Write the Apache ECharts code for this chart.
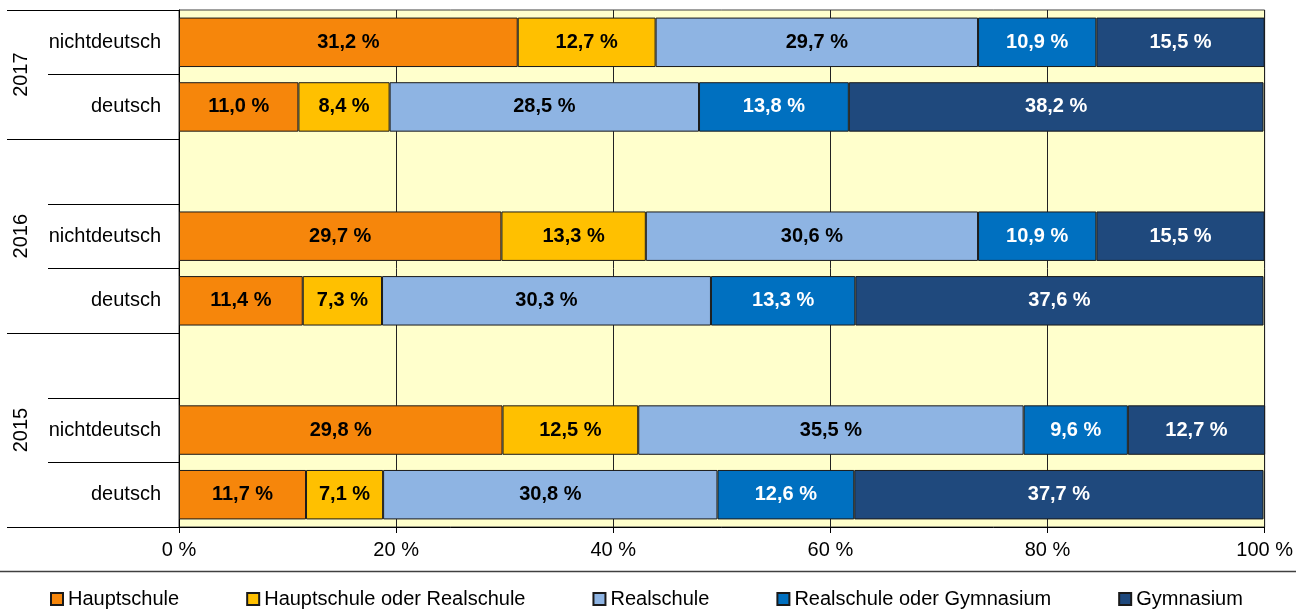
<!DOCTYPE html>
<html>
<head>
<meta charset="utf-8">
<script src="https://cdn.jsdelivr.net/npm/echarts@6/dist/echarts.min.js"></script>
<style>
html,body{margin:0;padding:0;background:#fff;}
#chart{width:1296px;height:615px;}
</style>
</head>
<body>
<div id="chart"></div>
<script>
// Rows from bottom to top; '' rows are the empty separator rows
var categories = ['deutsch', 'nichtdeutsch', '', 'deutsch', 'nichtdeutsch', '', 'deutsch', 'nichtdeutsch'];
var years = ['2015', '2016', '2017'];
var yearCenters = [1.5, 4.5, 7];
var groupBounds = [0, 3, 6, 8];
var xTicks = [0, 20, 40, 60, 80, 100];

var seriesNames = ['Hauptschule', 'Hauptschule oder Realschule', 'Realschule', 'Realschule oder Gymnasium', 'Gymnasium'];
var hauptschule   = [11.7, 29.8, null, 11.4, 29.7, null, 11.0, 31.2];
var hauptOderReal = [7.1, 12.5, null, 7.3, 13.3, null, 8.4, 12.7];
var realschule    = [30.8, 35.5, null, 30.3, 30.6, null, 28.5, 29.7];
var realOderGym   = [12.6, 9.6, null, 13.3, 10.9, null, 13.8, 10.9];
var gymnasium     = [37.7, 12.7, null, 37.6, 15.5, null, 38.2, 15.5];

var colors = ['#F6860B', '#FFC000', '#8EB4E3', '#0070C0', '#1F497D'];
var labelColors = ['#000', '#000', '#000', '#fff', '#fff'];
var FONT = "'Liberation Sans', Arial, sans-serif";

var seriesData = [hauptschule, hauptOderReal, realschule, realOderGym, gymnasium];

var chart = echarts.init(document.getElementById('chart'), null, {renderer: 'canvas'});
var series = seriesData.map(function (d, i) {
  return {
    name: seriesNames[i],
    type: 'bar',
    stack: 'total',
    barCategoryGap: '23.5%',
    data: d,
    itemStyle: {color: colors[i], borderColor: '#1a1a1a', borderWidth: 1},
    label: {
      show: true,
      position: 'inside',
      color: labelColors[i],
      fontWeight: 'bold',
      fontSize: 20,
      fontFamily: FONT,
      formatter: function (p) {
        return p.value == null ? '' : p.value.toFixed(1).replace('.', ',') + ' %';
      }
    },
    emphasis: {disabled: true},
    animation: false
  };
});

chart.setOption({
  animation: false,
  textStyle: {fontFamily: FONT},
  grid: {
    left: 179, right: 29, top: 10, bottom: 88,
    show: true, backgroundColor: '#FFFFCC', borderColor: '#404040', borderWidth: 1
  },
  xAxis: {
    type: 'value', min: 0, max: 100, interval: 20,
    axisLine: {show: true, lineStyle: {color: '#000', width: 1}},
    axisTick: {show: true, length: 6, lineStyle: {color: '#000'}},
    splitLine: {show: true, lineStyle: {color: '#222', width: 1}},
    axisLabel: {formatter: '{value} %', fontSize: 20, color: '#000', fontFamily: FONT, margin: 13}
  },
  yAxis: [{
    type: 'category',
    data: categories,
    position: 'left',
    axisLine: {show: true, lineStyle: {color: '#000', width: 1}},
    axisTick: {show: true, interval: 0, length: 131, lineStyle: {color: '#000', width: 1}},
    axisLabel: {interval: 0, fontSize: 20, color: '#000', fontFamily: FONT, margin: 18},
    splitLine: {show: false}
  }, {
    type: 'value',
    min: 0, max: 8,
    position: 'left',
    axisLine: {show: false},
    axisTick: {show: true, customValues: groupBounds, length: 172, lineStyle: {color: '#000', width: 1}},
    axisLabel: {
      show: true,
      customValues: yearCenters,
      rotate: 90,
      margin: 148,
      fontSize: 20,
      color: '#000',
      fontFamily: FONT,
      formatter: function (v) {
        var idx = yearCenters.indexOf(v);
        return idx >= 0 ? years[idx] : '';
      }
    },
    splitLine: {show: false}
  }],
  legend: {
    data: seriesNames,
    left: 45,
    top: 584,
    icon: 'rect',
    itemWidth: 12,
    itemHeight: 12,
    itemGap: 67,
    textStyle: {fontSize: 20, color: '#000', fontFamily: FONT}
  },
  graphic: [{
    type: 'line',
    shape: {x1: 0, y1: 571.5, x2: 1296, y2: 571.5},
    style: {stroke: '#404040', lineWidth: 1.5}
  }],
  series: series
});
</script>
</body>
</html>
